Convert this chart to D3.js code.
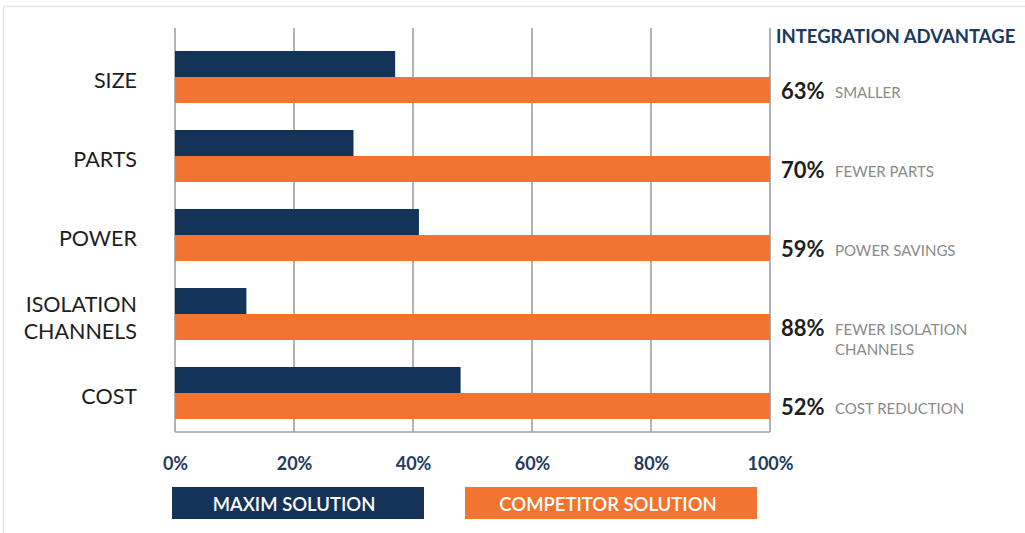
<!DOCTYPE html>
<html>
<head>
<meta charset="utf-8">
<script src="https://cdn.jsdelivr.net/npm/d3@7"></script>
<style>
  html, body { margin: 0; padding: 0; background: #fff; }
  svg { display: block; font-family: Lato, "Open Sans", sans-serif; }
</style>
</head>
<body>
<svg id="chart" width="1025" height="533"></svg>
<script>
// ---- data ----
const categories = [["SIZE"], ["PARTS"], ["POWER"], ["ISOLATION", "CHANNELS"], ["COST"]];
const maximValues = [37, 30, 41, 12, 48];
const competitorValues = [100, 100, 100, 100, 100];
const advantagePct = ["63%", "70%", "59%", "88%", "52%"];
const advantageText = [["SMALLER"], ["FEWER PARTS"], ["POWER SAVINGS"], ["FEWER ISOLATION", "CHANNELS"], ["COST REDUCTION"]];
const tickValues = [0, 20, 40, 60, 80, 100];
const seriesNames = ["MAXIM SOLUTION", "COMPETITOR SOLUTION"];
const headerText = "INTEGRATION ADVANTAGE";

// ---- style ----
const NAVY = "#133458";
const ORANGE = "#f37430";
const GRID = "#a0a0a0";

const svg = d3.select("#chart");

// outer light frame
svg.append("rect").attr("x", 3.5).attr("y", 6.5).attr("width", 1040).attr("height", 560)
  .attr("fill", "none").attr("stroke", "#e6e6e6").attr("stroke-width", 1.5);

const plotTop = 28, plotBottom = 432;
const x = d3.scaleLinear().domain([0, 100]).range([175, 770]);
const idx = categories.map((d, i) => i);
const y = d3.scaleBand().domain(idx).range([37.5, 432.5]).paddingInner(0.342).paddingOuter(0.171);
const ySub = d3.scaleBand().domain([0, 1]).range([0, y.bandwidth()]);

// grid lines
const grid = svg.append("g");
grid.selectAll("line.v").data(tickValues).join("line")
  .attr("x1", d => x(d)).attr("x2", d => x(d))
  .attr("y1", plotTop).attr("y2", plotBottom)
  .attr("stroke", GRID).attr("stroke-width", 1.6);
grid.append("line")
  .attr("x1", x(0)).attr("x2", x(100))
  .attr("y1", plotBottom).attr("y2", plotBottom)
  .attr("stroke", GRID).attr("stroke-width", 1.6);

// bars
const seriesData = [maximValues, competitorValues];
const seriesColors = [NAVY, ORANGE];
const bars = svg.append("g");
seriesData.forEach((vals, s) => {
  bars.selectAll("rect.s" + s).data(idx).join("rect")
    .attr("class", "s" + s)
    .attr("x", x(0))
    .attr("y", i => y(i) + ySub(s))
    .attr("width", i => x(vals[i]) - x(0))
    .attr("height", ySub.bandwidth())
    .attr("fill", seriesColors[s]);
});

// category labels
const catG = svg.append("g");
idx.forEach(i => {
  const lines = categories[i];
  const cy = y(i) + y.bandwidth() / 2 + 3;
  const lh = 27;
  const t = catG.append("text")
    .attr("x", 137)
    .attr("text-anchor", "end")
    .attr("fill", "#1e1e1e")
    .attr("font-size", 21.5)
    .attr("dominant-baseline", "central");
  lines.forEach((ln, k) => {
    t.append("tspan").attr("x", 137)
      .attr("y", cy + (k - (lines.length - 1) / 2) * lh)
      .text(ln);
  });
});

// header
svg.append("text")
  .attr("x", 776).attr("y", 36)
  .attr("dominant-baseline", "central")
  .attr("font-size", 18.5).attr("font-weight", 700)
  .attr("fill", "#1b3a5e")
  .text(headerText);

// right-side advantage labels
const advG = svg.append("g");
idx.forEach(i => {
  const cy = y(i) + ySub(1) + ySub.bandwidth() / 2 + 1;
  advG.append("text")
    .attr("x", 781).attr("y", cy)
    .attr("dominant-baseline", "central")
    .attr("font-size", 22).attr("font-weight", 700)
    .attr("fill", "#1e1e1e")
    .text(advantagePct[i]);
  advantageText[i].forEach((ln, k) => {
    advG.append("text")
      .attr("x", 835).attr("y", cy + 1 + k * 20)
      .attr("dominant-baseline", "central")
      .attr("font-size", 15)
      .attr("fill", "#8a8a8a")
      .text(ln);
  });
});

// x axis tick labels
const axis = d3.axisBottom(x).tickValues(tickValues).tickFormat(d => d + "%").tickSize(0).tickPadding(0);
const axG = svg.append("g").attr("transform", `translate(0, ${457})`).call(axis);
axG.select(".domain").remove();
axG.selectAll("text")
  .attr("font-family", "Lato, sans-serif")
  .attr("font-size", 18).attr("font-weight", 700)
  .attr("fill", "#1f3b5e");

// legend
const legendBoxes = [[172, 424], [465, 757]];
const legG = svg.append("g");
seriesNames.forEach((name, s) => {
  const [x0, x1] = legendBoxes[s];
  legG.append("rect")
    .attr("x", x0).attr("y", 487).attr("width", x1 - x0).attr("height", 32)
    .attr("fill", seriesColors[s]);
  legG.append("text")
    .attr("x", (x0 + x1) / 2 - (s === 0 ? 4 : 3)).attr("y", 503.5)
    .attr("text-anchor", "middle").attr("dominant-baseline", "central")
    .attr("font-size", 18.5).attr("font-weight", 600)
    .attr("fill", "#ffffff")
    .text(name);
});
</script>
</body>
</html>
